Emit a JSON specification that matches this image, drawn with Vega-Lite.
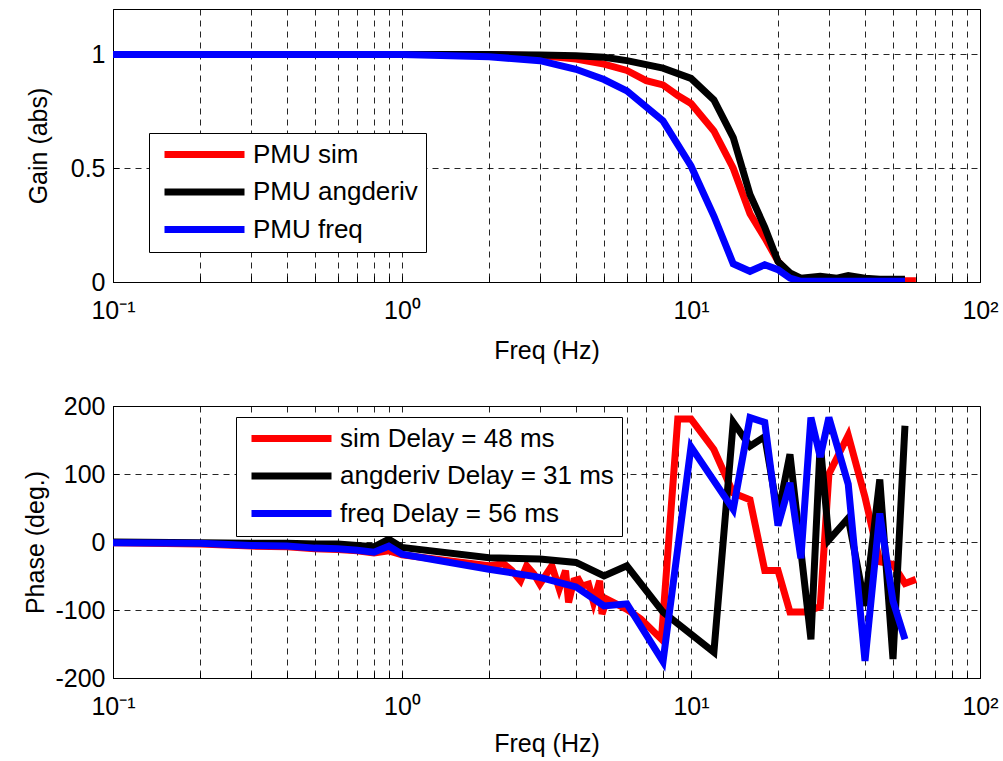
{
  "$schema": "https://vega.github.io/schema/vega-lite/v6.json",
  "padding": {"left": 23, "top": 8, "right": 5, "bottom": 0},
  "background": "white",
  "spacing": 29,
  "datasets": {
    "gain": [
      {"s": "PMU sim", "f": 0.1, "v": 1}, {"s": "PMU sim", "f": 0.2, "v": 1}, {"s": "PMU sim", "f": 0.3, "v": 1}, {"s": "PMU sim", "f": 0.4, "v": 1}, {"s": "PMU sim", "f": 0.5, "v": 1}, {"s": "PMU sim", "f": 0.6, "v": 1}, {"s": "PMU sim", "f": 0.7, "v": 1}, {"s": "PMU sim", "f": 0.8, "v": 1}, {"s": "PMU sim", "f": 0.9, "v": 1}, {"s": "PMU sim", "f": 1, "v": 1},
      {"s": "PMU sim", "f": 2, "v": 1}, {"s": "PMU sim", "f": 3, "v": 0.995}, {"s": "PMU sim", "f": 4, "v": 0.98}, {"s": "PMU sim", "f": 5, "v": 0.958}, {"s": "PMU sim", "f": 6, "v": 0.93}, {"s": "PMU sim", "f": 7, "v": 0.885}, {"s": "PMU sim", "f": 8, "v": 0.866}, {"s": "PMU sim", "f": 9, "v": 0.82}, {"s": "PMU sim", "f": 10, "v": 0.785}, {"s": "PMU sim", "f": 12, "v": 0.664}, {"s": "PMU sim", "f": 14, "v": 0.5}, {"s": "PMU sim", "f": 16, "v": 0.3}, {"s": "PMU sim", "f": 18, "v": 0.194}, {"s": "PMU sim", "f": 20, "v": 0.091}, {"s": "PMU sim", "f": 22, "v": 0.032}, {"s": "PMU sim", "f": 24, "v": 0.01}, {"s": "PMU sim", "f": 26, "v": 0.005}, {"s": "PMU sim", "f": 30, "v": 0.005}, {"s": "PMU sim", "f": 35, "v": 0.005}, {"s": "PMU sim", "f": 40, "v": 0.005}, {"s": "PMU sim", "f": 45, "v": 0.005}, {"s": "PMU sim", "f": 50, "v": 0.005}, {"s": "PMU sim", "f": 55, "v": 0.005}, {"s": "PMU sim", "f": 60, "v": 0.005},
      {"s": "PMU angderiv", "f": 0.1, "v": 1}, {"s": "PMU angderiv", "f": 0.2, "v": 1}, {"s": "PMU angderiv", "f": 0.3, "v": 1}, {"s": "PMU angderiv", "f": 0.4, "v": 1}, {"s": "PMU angderiv", "f": 0.5, "v": 1}, {"s": "PMU angderiv", "f": 0.6, "v": 1}, {"s": "PMU angderiv", "f": 0.7, "v": 1}, {"s": "PMU angderiv", "f": 0.8, "v": 1}, {"s": "PMU angderiv", "f": 0.9, "v": 1}, {"s": "PMU angderiv", "f": 1, "v": 1},
      {"s": "PMU angderiv", "f": 2, "v": 1}, {"s": "PMU angderiv", "f": 3, "v": 0.998}, {"s": "PMU angderiv", "f": 4, "v": 0.995}, {"s": "PMU angderiv", "f": 5, "v": 0.988}, {"s": "PMU angderiv", "f": 6, "v": 0.973}, {"s": "PMU angderiv", "f": 8, "v": 0.94}, {"s": "PMU angderiv", "f": 10, "v": 0.895}, {"s": "PMU angderiv", "f": 12, "v": 0.8}, {"s": "PMU angderiv", "f": 14, "v": 0.635}, {"s": "PMU angderiv", "f": 16, "v": 0.385}, {"s": "PMU angderiv", "f": 18, "v": 0.24}, {"s": "PMU angderiv", "f": 20, "v": 0.09}, {"s": "PMU angderiv", "f": 22, "v": 0.04}, {"s": "PMU angderiv", "f": 24, "v": 0.017}, {"s": "PMU angderiv", "f": 28, "v": 0.025}, {"s": "PMU angderiv", "f": 32, "v": 0.017}, {"s": "PMU angderiv", "f": 35, "v": 0.028}, {"s": "PMU angderiv", "f": 40, "v": 0.017}, {"s": "PMU angderiv", "f": 45, "v": 0.012}, {"s": "PMU angderiv", "f": 50, "v": 0.012}, {"s": "PMU angderiv", "f": 55, "v": 0.012},
      {"s": "PMU freq", "f": 0.1, "v": 1}, {"s": "PMU freq", "f": 0.2, "v": 1}, {"s": "PMU freq", "f": 0.3, "v": 1}, {"s": "PMU freq", "f": 0.4, "v": 1}, {"s": "PMU freq", "f": 0.5, "v": 1}, {"s": "PMU freq", "f": 0.6, "v": 1}, {"s": "PMU freq", "f": 0.7, "v": 1}, {"s": "PMU freq", "f": 0.8, "v": 1}, {"s": "PMU freq", "f": 0.9, "v": 1}, {"s": "PMU freq", "f": 1, "v": 1},
      {"s": "PMU freq", "f": 2, "v": 0.99}, {"s": "PMU freq", "f": 3, "v": 0.973}, {"s": "PMU freq", "f": 4, "v": 0.935}, {"s": "PMU freq", "f": 5, "v": 0.89}, {"s": "PMU freq", "f": 6, "v": 0.84}, {"s": "PMU freq", "f": 8, "v": 0.708}, {"s": "PMU freq", "f": 10, "v": 0.51}, {"s": "PMU freq", "f": 12, "v": 0.29}, {"s": "PMU freq", "f": 14, "v": 0.08}, {"s": "PMU freq", "f": 16, "v": 0.047}, {"s": "PMU freq", "f": 18, "v": 0.076}, {"s": "PMU freq", "f": 20, "v": 0.054}, {"s": "PMU freq", "f": 22, "v": 0.017}, {"s": "PMU freq", "f": 24, "v": 0.003}, {"s": "PMU freq", "f": 30, "v": 0.003}, {"s": "PMU freq", "f": 40, "v": 0.003}, {"s": "PMU freq", "f": 50, "v": 0.003}, {"s": "PMU freq", "f": 55, "v": 0.003}
    ],
    "phase": [
      {"s": "sim Delay = 48 ms", "f": 0.1, "v": -1}, {"s": "sim Delay = 48 ms", "f": 0.2, "v": -3}, {"s": "sim Delay = 48 ms", "f": 0.3, "v": -6}, {"s": "sim Delay = 48 ms", "f": 0.4, "v": -7}, {"s": "sim Delay = 48 ms", "f": 0.5, "v": -10}, {"s": "sim Delay = 48 ms", "f": 0.6, "v": -11}, {"s": "sim Delay = 48 ms", "f": 0.7, "v": -13}, {"s": "sim Delay = 48 ms", "f": 0.8, "v": -16}, {"s": "sim Delay = 48 ms", "f": 0.9, "v": -13}, {"s": "sim Delay = 48 ms", "f": 1, "v": -19},
      {"s": "sim Delay = 48 ms", "f": 2, "v": -35}, {"s": "sim Delay = 48 ms", "f": 2.25, "v": -32}, {"s": "sim Delay = 48 ms", "f": 2.4, "v": -42}, {"s": "sim Delay = 48 ms", "f": 2.57, "v": -57}, {"s": "sim Delay = 48 ms", "f": 2.7, "v": -35}, {"s": "sim Delay = 48 ms", "f": 2.86, "v": -47}, {"s": "sim Delay = 48 ms", "f": 3, "v": -62}, {"s": "sim Delay = 48 ms", "f": 3.3, "v": -35}, {"s": "sim Delay = 48 ms", "f": 3.5, "v": -69}, {"s": "sim Delay = 48 ms", "f": 3.68, "v": -42}, {"s": "sim Delay = 48 ms", "f": 3.77, "v": -89}, {"s": "sim Delay = 48 ms", "f": 3.93, "v": -57}, {"s": "sim Delay = 48 ms", "f": 4.08, "v": -55}, {"s": "sim Delay = 48 ms", "f": 4.2, "v": -65}, {"s": "sim Delay = 48 ms", "f": 4.42, "v": -62}, {"s": "sim Delay = 48 ms", "f": 4.6, "v": -89}, {"s": "sim Delay = 48 ms", "f": 4.83, "v": -57}, {"s": "sim Delay = 48 ms", "f": 4.92, "v": -106}, {"s": "sim Delay = 48 ms", "f": 5.12, "v": -84}, {"s": "sim Delay = 48 ms", "f": 6, "v": -99}, {"s": "sim Delay = 48 ms", "f": 6.7, "v": -113}, {"s": "sim Delay = 48 ms", "f": 7.9, "v": -143},
      {"s": "sim Delay = 48 ms", "f": 9, "v": 181}, {"s": "sim Delay = 48 ms", "f": 10, "v": 181}, {"s": "sim Delay = 48 ms", "f": 12, "v": 136}, {"s": "sim Delay = 48 ms", "f": 14, "v": 72}, {"s": "sim Delay = 48 ms", "f": 16, "v": 62}, {"s": "sim Delay = 48 ms", "f": 18, "v": -42}, {"s": "sim Delay = 48 ms", "f": 20, "v": -42}, {"s": "sim Delay = 48 ms", "f": 22, "v": -103}, {"s": "sim Delay = 48 ms", "f": 25, "v": -103}, {"s": "sim Delay = 48 ms", "f": 28, "v": -95}, {"s": "sim Delay = 48 ms", "f": 30, "v": 100}, {"s": "sim Delay = 48 ms", "f": 35, "v": 157}, {"s": "sim Delay = 48 ms", "f": 40, "v": 66}, {"s": "sim Delay = 48 ms", "f": 45, "v": -29}, {"s": "sim Delay = 48 ms", "f": 50, "v": -33}, {"s": "sim Delay = 48 ms", "f": 55, "v": -61}, {"s": "sim Delay = 48 ms", "f": 60, "v": -55},
      {"s": "angderiv Delay = 31 ms", "f": 0.1, "v": 0}, {"s": "angderiv Delay = 31 ms", "f": 0.2, "v": -1}, {"s": "angderiv Delay = 31 ms", "f": 0.3, "v": -2}, {"s": "angderiv Delay = 31 ms", "f": 0.4, "v": -2}, {"s": "angderiv Delay = 31 ms", "f": 0.5, "v": -3}, {"s": "angderiv Delay = 31 ms", "f": 0.6, "v": -3}, {"s": "angderiv Delay = 31 ms", "f": 0.7, "v": -5}, {"s": "angderiv Delay = 31 ms", "f": 0.8, "v": -7}, {"s": "angderiv Delay = 31 ms", "f": 0.9, "v": 4}, {"s": "angderiv Delay = 31 ms", "f": 1, "v": -8},
      {"s": "angderiv Delay = 31 ms", "f": 2, "v": -23}, {"s": "angderiv Delay = 31 ms", "f": 3, "v": -25}, {"s": "angderiv Delay = 31 ms", "f": 4, "v": -30}, {"s": "angderiv Delay = 31 ms", "f": 5, "v": -50}, {"s": "angderiv Delay = 31 ms", "f": 6, "v": -35}, {"s": "angderiv Delay = 31 ms", "f": 8, "v": -103}, {"s": "angderiv Delay = 31 ms", "f": 12, "v": -162}, {"s": "angderiv Delay = 31 ms", "f": 14, "v": 176}, {"s": "angderiv Delay = 31 ms", "f": 16, "v": 141}, {"s": "angderiv Delay = 31 ms", "f": 18, "v": 155}, {"s": "angderiv Delay = 31 ms", "f": 20, "v": 40}, {"s": "angderiv Delay = 31 ms", "f": 22, "v": 129}, {"s": "angderiv Delay = 31 ms", "f": 26, "v": -143}, {"s": "angderiv Delay = 31 ms", "f": 28, "v": 145}, {"s": "angderiv Delay = 31 ms", "f": 30, "v": 3}, {"s": "angderiv Delay = 31 ms", "f": 35, "v": 35}, {"s": "angderiv Delay = 31 ms", "f": 40, "v": -94}, {"s": "angderiv Delay = 31 ms", "f": 45, "v": 92}, {"s": "angderiv Delay = 31 ms", "f": 50, "v": -172}, {"s": "angderiv Delay = 31 ms", "f": 55, "v": 171},
      {"s": "freq Delay = 56 ms", "f": 0.1, "v": -1}, {"s": "freq Delay = 56 ms", "f": 0.2, "v": -2}, {"s": "freq Delay = 56 ms", "f": 0.3, "v": -5}, {"s": "freq Delay = 56 ms", "f": 0.4, "v": -6}, {"s": "freq Delay = 56 ms", "f": 0.5, "v": -9}, {"s": "freq Delay = 56 ms", "f": 0.6, "v": -10}, {"s": "freq Delay = 56 ms", "f": 0.7, "v": -12}, {"s": "freq Delay = 56 ms", "f": 0.8, "v": -15}, {"s": "freq Delay = 56 ms", "f": 0.9, "v": -6}, {"s": "freq Delay = 56 ms", "f": 1, "v": -18},
      {"s": "freq Delay = 56 ms", "f": 2, "v": -40}, {"s": "freq Delay = 56 ms", "f": 3, "v": -52}, {"s": "freq Delay = 56 ms", "f": 4, "v": -66}, {"s": "freq Delay = 56 ms", "f": 5, "v": -94}, {"s": "freq Delay = 56 ms", "f": 6, "v": -91}, {"s": "freq Delay = 56 ms", "f": 8, "v": -176}, {"s": "freq Delay = 56 ms", "f": 10, "v": 140}, {"s": "freq Delay = 56 ms", "f": 14, "v": 48}, {"s": "freq Delay = 56 ms", "f": 16, "v": 183}, {"s": "freq Delay = 56 ms", "f": 18, "v": 176}, {"s": "freq Delay = 56 ms", "f": 20, "v": 24}, {"s": "freq Delay = 56 ms", "f": 22, "v": 87}, {"s": "freq Delay = 56 ms", "f": 24, "v": -24}, {"s": "freq Delay = 56 ms", "f": 26, "v": 183}, {"s": "freq Delay = 56 ms", "f": 28, "v": 125}, {"s": "freq Delay = 56 ms", "f": 30, "v": 183}, {"s": "freq Delay = 56 ms", "f": 35, "v": 85}, {"s": "freq Delay = 56 ms", "f": 40, "v": -175}, {"s": "freq Delay = 56 ms", "f": 45, "v": 42}, {"s": "freq Delay = 56 ms", "f": 50, "v": -87}, {"s": "freq Delay = 56 ms", "f": 55, "v": -143}
    ]
  },
  "vconcat": [
    {
      "width": 867,
      "height": 273,
      "data": {"name": "gain"},
      "encoding": {
        "x": {"field": "f", "type": "quantitative",
          "scale": {"type": "log", "domain": [0.1, 100], "nice": false},
          "axis": {"title": "Freq (Hz)", "values": [0.1,0.2,0.3,0.4,0.5,0.6,0.7,0.8,0.9,1,2,3,4,5,6,7,8,9,10,20,30,40,50,60,70,80,90,100],
            "labelExpr": "datum.value == 0.1 ? '10⁻¹' : datum.value == 1 ? '10⁰' : datum.value == 10 ? '10¹' : datum.value == 100 ? '10²' : ''",
            "labelFlush": false, "labelOverlap": false, "labelPadding": 22, "titlePadding": 15}},
        "y": {"field": "v", "type": "quantitative",
          "scale": {"domain": [0, 1.2], "nice": false, "zero": false},
          "axis": {"title": "Gain (abs)", "values": [0, 0.5, 1], "labelExpr": "'' + datum.value", "labelPadding": 14, "titlePadding": 19}},
        "color": {"field": "s", "type": "nominal",
          "scale": {"domain": ["PMU sim", "PMU angderiv", "PMU freq"], "range": ["#ff0000", "#000000", "#0000ff"]},
          "legend": {"title": null, "orient": "none", "legendX": 36, "legendY": 124}}
      },
      "layer": [
        {"transform": [{"filter": "datum.s == 'PMU sim'"}], "mark": {"type": "line", "strokeWidth": 7, "clip": true}},
        {"transform": [{"filter": "datum.s == 'PMU angderiv'"}], "mark": {"type": "line", "strokeWidth": 7, "clip": true}},
        {"transform": [{"filter": "datum.s == 'PMU freq'"}], "mark": {"type": "line", "strokeWidth": 7, "clip": true}}
      ]
    },
    {
      "width": 867,
      "height": 272,
      "data": {"name": "phase"},
      "encoding": {
        "x": {"field": "f", "type": "quantitative",
          "scale": {"type": "log", "domain": [0.1, 100], "nice": false},
          "axis": {"title": "Freq (Hz)", "values": [0.1,0.2,0.3,0.4,0.5,0.6,0.7,0.8,0.9,1,2,3,4,5,6,7,8,9,10,20,30,40,50,60,70,80,90,100],
            "labelExpr": "datum.value == 0.1 ? '10⁻¹' : datum.value == 1 ? '10⁰' : datum.value == 10 ? '10¹' : datum.value == 100 ? '10²' : ''",
            "labelFlush": false, "labelOverlap": false, "labelPadding": 22, "titlePadding": 12}},
        "y": {"field": "v", "type": "quantitative",
          "scale": {"domain": [-200, 200], "nice": false},
          "axis": {"title": "Phase (deg.)", "values": [-200, -100, 0, 100, 200], "labelExpr": "'' + datum.value", "labelPadding": 14, "titlePadding": 6}},
        "color": {"field": "s", "type": "nominal",
          "scale": {"domain": ["sim Delay = 48 ms", "angderiv Delay = 31 ms", "freq Delay = 56 ms"], "range": ["#ff0000", "#000000", "#0000ff"]},
          "legend": {"title": null, "orient": "none", "legendX": 123, "legendY": 11}}
      },
      "layer": [
        {"transform": [{"filter": "datum.s == 'sim Delay = 48 ms'"}], "mark": {"type": "line", "strokeWidth": 7, "clip": true}},
        {"transform": [{"filter": "datum.s == 'angderiv Delay = 31 ms'"}], "mark": {"type": "line", "strokeWidth": 7, "clip": true}},
        {"transform": [{"filter": "datum.s == 'freq Delay = 56 ms'"}], "mark": {"type": "line", "strokeWidth": 7, "clip": true}}
      ]
    }
  ],
  "resolve": {"scale": {"color": "independent"}, "legend": {"color": "independent"}},
  "config": {
    "font": "Liberation Sans",
    "view": {"stroke": "#000000", "strokeWidth": 1},
    "axis": {
      "labelFont": "Liberation Sans", "labelFontSize": 25, "labelColor": "#000000",
      "titleFont": "Liberation Sans", "titleFontSize": 25, "titleFontWeight": "normal", "titleColor": "#000000",
      "grid": true, "gridColor": "#000000", "gridDash": [6, 5], "gridWidth": 1, "gridOpacity": 0.85,
      "domainColor": "#000000", "domainWidth": 1,
      "tickColor": "#000000", "tickSize": -6, "tickWidth": 1
    },
    "legend": {
      "symbolType": "M-4,0H4", "symbolSize": 400, "symbolStrokeWidth": 7, "symbolOffset": 34,
      "labelFont": "Liberation Sans", "labelFontSize": 26, "labelColor": "#000000",
      "labelOffset": 35, "labelLimit": 500, "padding": 8, "rowPadding": 8.5,
      "strokeColor": "#000000", "fillColor": "#ffffff", "cornerRadius": 0
    }
  }
}
